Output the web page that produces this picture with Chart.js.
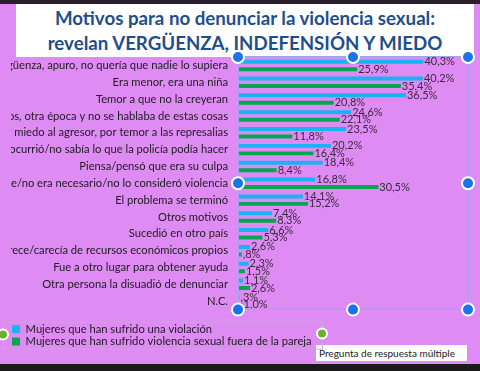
<!DOCTYPE html>
<html>
<head>
<meta charset="utf-8">
<script src="https://cdn.jsdelivr.net/npm/chart.js@4"></script>
<style>
  body { margin: 0; width: 480px; height: 371px; background: #df8bf4; position: relative; overflow: hidden; font-family: Lato, sans-serif; }
  #topband { position: absolute; left: 0; top: 0; width: 480px; height: 4px; background: #2a1d2c; }
  #title { position: absolute; left: 16px; top: 4px; width: 458px; height: 53px; background: #fff; color: #1f4e8c;
           font: bold 18.7px Lato, sans-serif; text-align: center; line-height: 25px; padding-top: 2px; box-sizing: border-box; }
  #note { position: absolute; left: 316px; top: 345px; width: 151px; height: 16px; background: #fff; color: #222;
          font: 10px Lato, sans-serif; line-height: 16px; padding-left: 3px; box-sizing: border-box; white-space: nowrap; }
  #bottomband { position: absolute; left: 0; top: 364px; width: 480px; height: 7px; background: #1a1a1a; }
  #wrap { position: absolute; left: 0; top: 0; width: 480px; height: 371px; }
</style>
</head>
<body>
<div id="topband"></div>
<div id="title">Motivos para no denunciar la violencia sexual:<br>revelan VERGÜENZA, INDEFENSIÓN Y MIEDO</div>
<div id="note">Pregunta de respuesta múltiple</div>
<div id="bottomband"></div>
<div id="wrap"><canvas id="chart"></canvas></div>
<script>
const motivos = [
  'Vergüenza, apuro, no quería que nadie lo supiera',
  'Era menor, era una niña',
  'Temor a que no la creyeran',
  'Eran otros tiempos, otra época y no se hablaba de estas cosas',
  'Por miedo al agresor, por temor a las represalias',
  'No sabía qué hacer cuando le ocurrió/no sabía lo que la policía podía hacer',
  'Piensa/pensó que era su culpa',
  'No era grave/no era necesario/no lo consideró violencia',
  'El problema se terminó',
  'Otros motivos',
  'Sucedió en otro país',
  'Carece/carecía de recursos económicos propios',
  'Fue a otro lugar para obtener ayuda',
  'Otra persona la disuadió de denunciar',
  'N.C.'
];
const violacion = [40.3, 40.2, 36.5, 24.6, 23.5, 20.2, 18.4, 16.8, 14.1, 7.4, 6.6, 2.6, 2.3, 1.1, 0.3];
const fueraPareja = [25.9, 35.4, 20.8, 22.1, 11.8, 16.4, 8.4, 30.5, 15.2, 8.3, 5.3, 0.8, 1.5, 2.6, 1.0];
const serieNombres = ['Mujeres que han sufrido una violación', 'Mujeres que han sufrido violencia sexual fuera de la pareja'];

function fmt(v) {
  let s = v.toFixed(1).replace('.', ',');
  if (s.startsWith('0,')) s = s.slice(1);
  return s + '%';
}

// etiquetas de valor al final de cada barra
const valueLabels = {
  id: 'valueLabels',
  afterDatasetsDraw(chart) {
    const ctx = chart.ctx;
    ctx.save();
    ctx.font = '11px Lato, sans-serif';
    ctx.fillStyle = '#3a2a3e';
    ctx.textBaseline = 'middle';
    ctx.textAlign = 'left';
    chart.data.datasets.forEach((ds, i) => {
      chart.getDatasetMeta(i).data.forEach((bar, j) => {
        ctx.fillText(fmt(ds.data[j]), bar.x + 1, bar.y);
      });
    });
    ctx.restore();
  }
};

// marco del área de trazado, cuadro de leyenda y tiradores de selección
const frame = {
  id: 'frame',
  afterDraw(chart) {
    const ctx = chart.ctx;
    const a = chart.chartArea;
    const lg = chart.legend;
    ctx.save();
    ctx.strokeStyle = '#c9a9d6';
    ctx.lineWidth = 1;
    ctx.strokeRect(lg.left - 7.5, lg.top - 0.5, 319, 27);
    ctx.strokeStyle = '#9ea4ee';
    ctx.strokeRect(a.left + 0.5, a.top - 0.5, a.right - a.left, a.bottom - a.top);
    const handle = (x, y, r, fill) => {
      ctx.beginPath();
      ctx.arc(x, y, r, 0, Math.PI * 2);
      ctx.fillStyle = fill;
      ctx.fill();
      ctx.lineWidth = 2;
      ctx.strokeStyle = '#ffffff';
      ctx.stroke();
    };
    const mx = (a.left + a.right) / 2, my = (a.top + a.bottom) / 2;
    [[a.left, a.top], [mx, a.top], [a.right, a.top], [a.left, my], [a.right, my],
     [a.left, a.bottom], [mx, a.bottom], [a.right, a.bottom]].forEach(p => handle(p[0], p[1], 6, '#1a73e8'));
    handle(lg.left - 8, lg.top + 12, 5, '#6ab22e');
    handle(lg.left + 311, lg.top + 11, 5, '#6ab22e');
    ctx.restore();
  }
};

new Chart(document.getElementById('chart'), {
  type: 'bar',
  data: {
    labels: motivos,
    datasets: [
      { label: serieNombres[0], data: violacion, backgroundColor: '#19b2f2', categoryPercentage: 0.89, barPercentage: 0.53 },
      { label: serieNombres[1], data: fueraPareja, backgroundColor: '#06a54f', categoryPercentage: 0.89, barPercentage: 0.53 }
    ]
  },
  options: {
    indexAxis: 'y',
    responsive: true,
    maintainAspectRatio: false,
    animation: false,
    layout: { padding: { left: 11, right: 12, top: 57, bottom: 14 } },
    scales: {
      x: {
        min: 0, max: 50,
        ticks: { display: false },
        grid: { display: false },
        border: { display: false },
        afterFit(s) { s.height = 13; }
      },
      y: {
        grid: { display: false, drawTicks: false },
        border: { display: true, color: '#8c82c4', width: 1 },
        ticks: { autoSkip: false, padding: 10, color: '#1c1c1c', font: { family: 'Lato', size: 11.2 } },
        afterFit(s) { s.width = 227; }
      }
    },
    plugins: {
      legend: {
        position: 'bottom',
        align: 'start',
        labels: { boxWidth: 8, boxHeight: 8, padding: 1, color: '#1c1c1c', font: { family: 'Lato', size: 11.2 } }
      },
      tooltip: { enabled: false }
    }
  },
  plugins: [valueLabels, frame]
});
</script>
</body>
</html>
